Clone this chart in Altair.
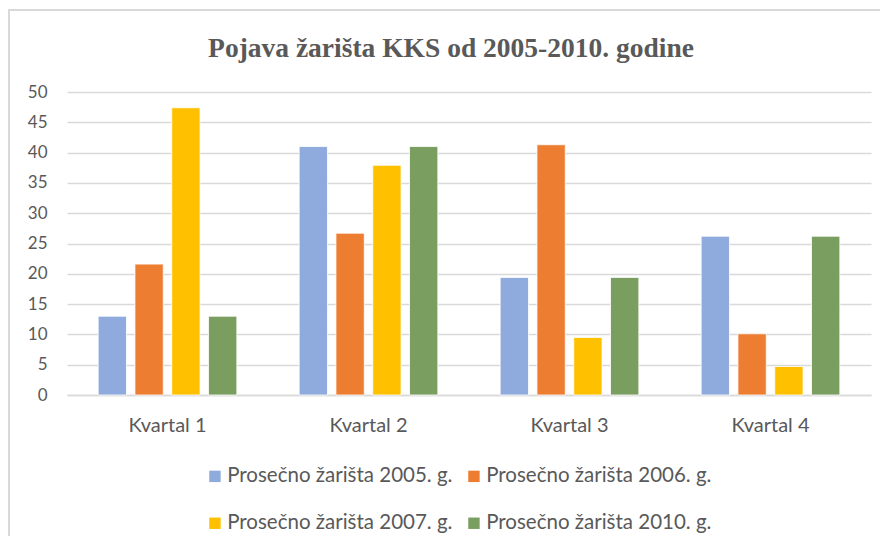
import altair as alt
import pandas as pd

quarters = ["Kvartal 1", "Kvartal 2", "Kvartal 3", "Kvartal 4"]
series = [
    "Prosečno žarišta 2005. g.",
    "Prosečno žarišta 2006. g.",
    "Prosečno žarišta 2007. g.",
    "Prosečno žarišta 2010. g.",
]
v2005 = [13.0, 41.0, 19.4, 26.2]
v2006 = [21.6, 26.7, 41.3, 10.1]
v2007 = [47.4, 37.9, 9.5, 4.7]
v2010 = [13.0, 41.0, 19.4, 26.2]
colors = ["#8FAADC", "#ED7D31", "#FFC000", "#7A9E5F"]
y_ticks = [0, 5, 10, 15, 20, 25, 30, 35, 40, 45, 50]
title_text = "Pojava žarišta KKS od 2005-2010. godine"

rows = []
for s, vals in zip(series, [v2005, v2006, v2007, v2010]):
    for q, v in zip(quarters, vals):
        rows.append({"Kvartal": q, "Serija": s, "Vrednost": v})
df = pd.DataFrame(rows)

FONT = "Lato"
GREY = "#595959"

bars = alt.Chart(df).mark_bar(stroke="white", strokeWidth=0.8).encode(
    x=alt.X(
        "Kvartal:N",
        sort=quarters,
        scale=alt.Scale(paddingInner=0.31, paddingOuter=0.155),
        axis=alt.Axis(
            title=None, labelAngle=0, labelFont=FONT, labelFontSize=20,
            labelColor=GREY, labelPadding=20, ticks=False,
            domainColor="#d9d9d9", domainWidth=1.5,
        ),
    ),
    xOffset=alt.XOffset("Serija:N", sort=series, scale=alt.Scale(paddingInner=0.23)),
    y=alt.Y(
        "Vrednost:Q",
        scale=alt.Scale(domain=[0, 50], nice=False),
        axis=alt.Axis(
            title=None, values=y_ticks, domain=False, ticks=False,
            gridColor="#d9d9d9", gridWidth=1.5, labelPadding=20,
            labelFont=FONT, labelFontSize=17, labelColor=GREY,
        ),
    ),
    color=alt.Color(
        "Serija:N",
        sort=series,
        scale=alt.Scale(domain=series, range=colors),
        legend=alt.Legend(
            title=None, orient="none", legendX=137.7, legendY=374,
            direction="horizontal", columns=2, symbolType="square",
            symbolSize=130, symbolStrokeWidth=0, labelFont=FONT,
            labelFontSize=20.5, labelColor=GREY, labelOffset=2,
            columnPadding=11, rowPadding=26, padding=0, labelLimit=400,
        ),
    ),
)

frame = alt.Chart(pd.DataFrame({"a": [0]})).mark_rect(
    fill="transparent", stroke="#d9d9d9", strokeWidth=2
).encode(
    x=alt.value(-58), x2=alt.value(900), y=alt.value(-82), y2=alt.value(700)
)

chart = alt.layer(frame, bars).properties(
    width=804,
    height=303,
    autosize=alt.AutoSizeParams(type="none"),
    padding={"left": 59, "top": 84, "right": 9, "bottom": 141},
    title=alt.TitleParams(
        text=title_text, font="Liberation Serif", fontSize=27.5,
        fontWeight="bold", color=GREY, anchor="middle", baseline="alphabetic",
        offset=-75, dx=-18,
    ),
).configure_view(strokeWidth=0)

chart.save("out.html", embed_options={"renderer": "svg", "actions": False})
